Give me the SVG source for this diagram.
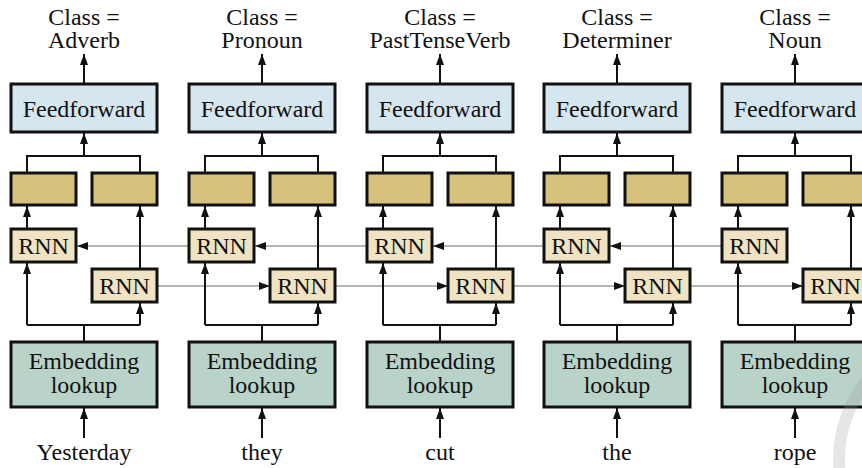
<svg xmlns="http://www.w3.org/2000/svg" width="862" height="468" viewBox="0 0 862 468">
<defs>
<style>
text{font-family:'Liberation Serif','Times New Roman','DejaVu Serif',Tinos,serif;font-size:24px;fill:#111;text-anchor:middle}
.ff{fill:#d6e6ef;stroke:#111;stroke-width:3}
.hid{fill:#d6c27c;stroke:#111;stroke-width:3}
.rnn{fill:#efe3c4;stroke:#111;stroke-width:3}
.emb{fill:#b9d3c9;stroke:#111;stroke-width:3}
.c{fill:none;stroke:#111;stroke-width:2}
.g{fill:none;stroke:#b5b5b5;stroke-width:2}
.a{marker-end:url(#ah)}
</style>
<marker id="ah" markerUnits="userSpaceOnUse" markerWidth="12" markerHeight="10" viewBox="0 0 12 10" refX="11" refY="5" orient="auto">
<path d="M0,1 L11,5 L0,9 Z" fill="#111"/>
</marker>
</defs>
<rect width="862" height="468" fill="#fff"/>

<g id="connectors">
<g id="grey-links">
<path class="g a" d="M189,246 H77"/>
<path class="g a" d="M367,246 H255"/>
<path class="g a" d="M544,246 H433"/>
<path class="g a" d="M722,246 H610"/>
<path class="g a" d="M157,286 H270"/>
<path class="g a" d="M335,286 H448"/>
<path class="g a" d="M513,286 H625"/>
<path class="g a" d="M690,286 H803"/>
</g>
<g transform="translate(0,0)">
<path class="c a" d="M84,84 V54"/><path class="c a" d="M84,156 V133"/><path class="c" d="M27,173 V156 H140 V173"/>
<path class="c a" d="M27,229 V206"/><path class="c a" d="M140,269 V206"/>
<path class="c" d="M84,342 V325 M27,325 H140"/><path class="c a" d="M27,325 V263"/><path class="c a" d="M140,325 V303"/>
<path class="c a" d="M84,438 V408"/>
</g>
<g transform="translate(178,0)">
<path class="c a" d="M84,84 V54"/><path class="c a" d="M84,156 V133"/><path class="c" d="M27,173 V156 H140 V173"/>
<path class="c a" d="M27,229 V206"/><path class="c a" d="M140,269 V206"/>
<path class="c" d="M84,342 V325 M27,325 H140"/><path class="c a" d="M27,325 V263"/><path class="c a" d="M140,325 V303"/>
<path class="c a" d="M84,438 V408"/>
</g>
<g transform="translate(356,0)">
<path class="c a" d="M84,84 V54"/><path class="c a" d="M84,156 V133"/><path class="c" d="M27,173 V156 H140 V173"/>
<path class="c a" d="M27,229 V206"/><path class="c a" d="M140,269 V206"/>
<path class="c" d="M84,342 V325 M27,325 H140"/><path class="c a" d="M27,325 V263"/><path class="c a" d="M140,325 V303"/>
<path class="c a" d="M84,438 V408"/>
</g>
<g transform="translate(533,0)">
<path class="c a" d="M84,84 V54"/><path class="c a" d="M84,156 V133"/><path class="c" d="M27,173 V156 H140 V173"/>
<path class="c a" d="M27,229 V206"/><path class="c a" d="M140,269 V206"/>
<path class="c" d="M84,342 V325 M27,325 H140"/><path class="c a" d="M27,325 V263"/><path class="c a" d="M140,325 V303"/>
<path class="c a" d="M84,438 V408"/>
</g>
<g transform="translate(711,0)">
<path class="c a" d="M84,84 V54"/><path class="c a" d="M84,156 V133"/><path class="c" d="M27,173 V156 H140 V173"/>
<path class="c a" d="M27,229 V206"/><path class="c a" d="M140,269 V206"/>
<path class="c" d="M84,342 V325 M27,325 H140"/><path class="c a" d="M27,325 V263"/><path class="c a" d="M140,325 V303"/>
<path class="c a" d="M84,438 V408"/>
</g>
</g>

<g font-family="Liberation Serif, Times New Roman, serif">
<g transform="translate(0,0)">
<g id="out1"><text x="84" y="25">Class =</text><text x="84" y="48">Adverb</text></g>
<g id="ff1"><rect class="ff" x="11" y="84" width="146" height="48"/><text x="84" y="117">Feedforward</text></g>
<g id="h1a"><rect class="hid" x="11" y="173" width="65" height="32"/></g>
<g id="h1b"><rect class="hid" x="92" y="173" width="65" height="32"/></g>
<g id="rnnb1"><rect class="rnn" x="11" y="229" width="65" height="33"/><text x="43.5" y="254">RNN</text></g>
<g id="rnnf1"><rect class="rnn" x="92" y="269" width="65" height="33"/><text x="124.5" y="294">RNN</text></g>
<g id="emb1"><rect class="emb" x="11" y="342" width="146" height="65"/><text x="84" y="369">Embedding</text><text x="84" y="393">lookup</text></g>
<g id="w1"><text x="84" y="460">Yesterday</text></g>
</g>
<g transform="translate(178,0)">
<g id="out2"><text x="84" y="25">Class =</text><text x="84" y="48">Pronoun</text></g>
<g id="ff2"><rect class="ff" x="11" y="84" width="146" height="48"/><text x="84" y="117">Feedforward</text></g>
<g id="h2a"><rect class="hid" x="11" y="173" width="65" height="32"/></g>
<g id="h2b"><rect class="hid" x="92" y="173" width="65" height="32"/></g>
<g id="rnnb2"><rect class="rnn" x="11" y="229" width="65" height="33"/><text x="43.5" y="254">RNN</text></g>
<g id="rnnf2"><rect class="rnn" x="92" y="269" width="65" height="33"/><text x="124.5" y="294">RNN</text></g>
<g id="emb2"><rect class="emb" x="11" y="342" width="146" height="65"/><text x="84" y="369">Embedding</text><text x="84" y="393">lookup</text></g>
<g id="w2"><text x="84" y="460">they</text></g>
</g>
<g transform="translate(356,0)">
<g id="out3"><text x="84" y="25">Class =</text><text x="84" y="48">PastTenseVerb</text></g>
<g id="ff3"><rect class="ff" x="11" y="84" width="146" height="48"/><text x="84" y="117">Feedforward</text></g>
<g id="h3a"><rect class="hid" x="11" y="173" width="65" height="32"/></g>
<g id="h3b"><rect class="hid" x="92" y="173" width="65" height="32"/></g>
<g id="rnnb3"><rect class="rnn" x="11" y="229" width="65" height="33"/><text x="43.5" y="254">RNN</text></g>
<g id="rnnf3"><rect class="rnn" x="92" y="269" width="65" height="33"/><text x="124.5" y="294">RNN</text></g>
<g id="emb3"><rect class="emb" x="11" y="342" width="146" height="65"/><text x="84" y="369">Embedding</text><text x="84" y="393">lookup</text></g>
<g id="w3"><text x="84" y="460">cut</text></g>
</g>
<g transform="translate(533,0)">
<g id="out4"><text x="84" y="25">Class =</text><text x="84" y="48">Determiner</text></g>
<g id="ff4"><rect class="ff" x="11" y="84" width="146" height="48"/><text x="84" y="117">Feedforward</text></g>
<g id="h4a"><rect class="hid" x="11" y="173" width="65" height="32"/></g>
<g id="h4b"><rect class="hid" x="92" y="173" width="65" height="32"/></g>
<g id="rnnb4"><rect class="rnn" x="11" y="229" width="65" height="33"/><text x="43.5" y="254">RNN</text></g>
<g id="rnnf4"><rect class="rnn" x="92" y="269" width="65" height="33"/><text x="124.5" y="294">RNN</text></g>
<g id="emb4"><rect class="emb" x="11" y="342" width="146" height="65"/><text x="84" y="369">Embedding</text><text x="84" y="393">lookup</text></g>
<g id="w4"><text x="84" y="460">the</text></g>
</g>
<g transform="translate(711,0)">
<g id="out5"><text x="84" y="25">Class =</text><text x="84" y="48">Noun</text></g>
<g id="ff5"><rect class="ff" x="11" y="84" width="146" height="48"/><text x="84" y="117">Feedforward</text></g>
<g id="h5a"><rect class="hid" x="11" y="173" width="65" height="32"/></g>
<g id="h5b"><rect class="hid" x="92" y="173" width="65" height="32"/></g>
<g id="rnnb5"><rect class="rnn" x="11" y="229" width="65" height="33"/><text x="43.5" y="254">RNN</text></g>
<g id="rnnf5"><rect class="rnn" x="92" y="269" width="65" height="33"/><text x="124.5" y="294">RNN</text></g>
<g id="emb5"><rect class="emb" x="11" y="342" width="146" height="65"/><text x="84" y="369">Embedding</text><text x="84" y="393">lookup</text></g>
<g id="w5"><text x="84" y="460">rope</text></g>
</g>
</g>

<circle cx="966" cy="460" r="127" fill="none" stroke="#9a9a9a" stroke-opacity="0.25" stroke-width="12"/>
</svg>
